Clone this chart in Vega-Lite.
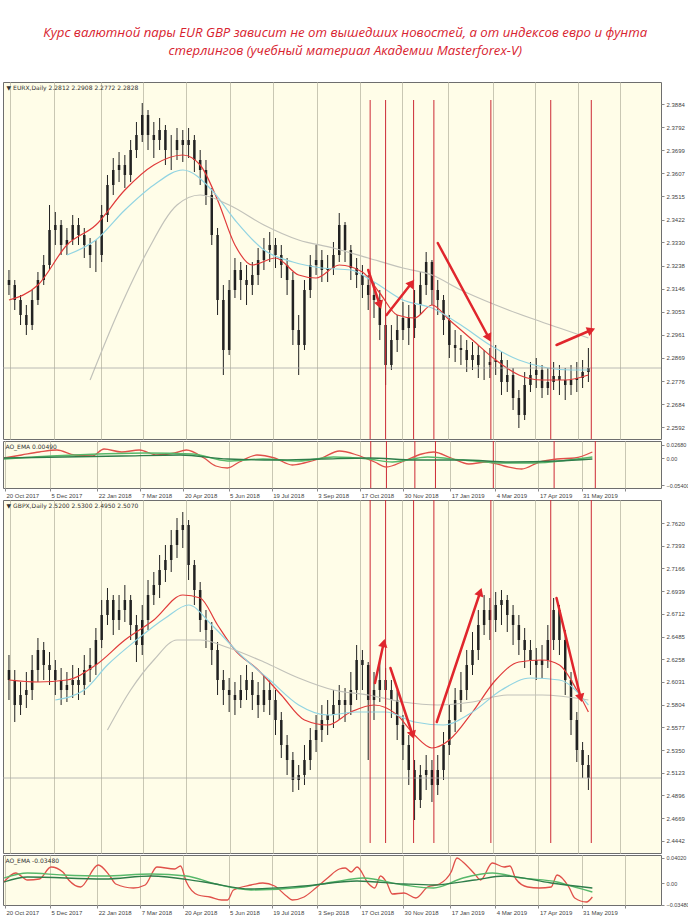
{
"$schema": "https://vega.github.io/schema/vega-lite/v6.json",
"padding": {"top": 26, "left": 0, "right": 0, "bottom": 0},
"background": "#ffffff",
"spacing": 0,
"title": {"text": ["Курс валютной пары EUR GBP зависит не от вышедших новостей, а от индексов евро и фунта", "стерлингов (учебный материал Академии Masterforex-V)"], "anchor": "middle", "font": "Open Sans", "fontStyle": "italic", "fontWeight": "normal", "fontSize": 13.2, "color": "#d8232f", "lineHeight": 18, "offset": 23},
"datasets": {
"top": [
{"d":"2017-10-19","o":2.318,"h":2.322,"l":2.312,"c":2.316},
{"d":"2017-10-25","o":2.316,"h":2.318,"l":2.306,"c":2.310},
{"d":"2017-10-31","o":2.310,"h":2.312,"l":2.300,"c":2.304},
{"d":"2017-11-06","o":2.304,"h":2.308,"l":2.296,"c":2.300},
{"d":"2017-11-12","o":2.300,"h":2.314,"l":2.298,"c":2.310},
{"d":"2017-11-18","o":2.310,"h":2.3212,"l":2.308,"c":2.318},
{"d":"2017-11-24","o":2.318,"h":2.328,"l":2.316,"c":2.324},
{"d":"2017-11-30","o":2.324,"h":2.348,"l":2.322,"c":2.338},
{"d":"2017-12-06","o":2.338,"h":2.3452,"l":2.332,"c":2.340},
{"d":"2017-12-12","o":2.340,"h":2.342,"l":2.328,"c":2.332},
{"d":"2017-12-18","o":2.332,"h":2.3388,"l":2.328,"c":2.334},
{"d":"2017-12-24","o":2.334,"h":2.344,"l":2.332,"c":2.340},
{"d":"2017-12-30","o":2.340,"h":2.3428,"l":2.332,"c":2.336},
{"d":"2018-01-05","o":2.336,"h":2.3388,"l":2.3268,"c":2.332},
{"d":"2018-01-11","o":2.332,"h":2.3348,"l":2.3228,"c":2.328},
{"d":"2018-01-17","o":2.328,"h":2.334,"l":2.3212,"c":2.328},
{"d":"2018-01-23","o":2.328,"h":2.348,"l":2.3252,"c":2.344},
{"d":"2018-01-29","o":2.344,"h":2.360,"l":2.3412,"c":2.356},
{"d":"2018-02-04","o":2.356,"h":2.3668,"l":2.352,"c":2.362},
{"d":"2018-02-10","o":2.362,"h":2.3692,"l":2.3572,"c":2.364},
{"d":"2018-02-16","o":2.364,"h":2.368,"l":2.3548,"c":2.360},
{"d":"2018-02-22","o":2.360,"h":2.374,"l":2.3572,"c":2.370},
{"d":"2018-02-28","o":2.370,"h":2.3812,"l":2.3668,"c":2.376},
{"d":"2018-03-06","o":2.376,"h":2.3888,"l":2.3732,"c":2.384},
{"d":"2018-03-12","o":2.384,"h":2.386,"l":2.370,"c":2.376},
{"d":"2018-03-18","o":2.376,"h":2.3812,"l":2.3668,"c":2.374},
{"d":"2018-03-24","o":2.374,"h":2.3828,"l":2.370,"c":2.378},
{"d":"2018-03-30","o":2.378,"h":2.380,"l":2.364,"c":2.370},
{"d":"2018-04-05","o":2.370,"h":2.376,"l":2.362,"c":2.370},
{"d":"2018-04-11","o":2.370,"h":2.3788,"l":2.366,"c":2.374},
{"d":"2018-04-17","o":2.374,"h":2.378,"l":2.3652,"c":2.372},
{"d":"2018-04-23","o":2.372,"h":2.3788,"l":2.3668,"c":2.374},
{"d":"2018-04-29","o":2.374,"h":2.376,"l":2.3612,"c":2.366},
{"d":"2018-05-05","o":2.366,"h":2.370,"l":2.356,"c":2.362},
{"d":"2018-05-11","o":2.362,"h":2.366,"l":2.348,"c":2.352},
{"d":"2018-05-17","o":2.352,"h":2.3548,"l":2.332,"c":2.336},
{"d":"2018-05-23","o":2.336,"h":2.3388,"l":2.304,"c":2.310},
{"d":"2018-05-29","o":2.310,"h":2.316,"l":2.280,"c":2.290},
{"d":"2018-06-04","o":2.290,"h":2.318,"l":2.288,"c":2.314},
{"d":"2018-06-10","o":2.314,"h":2.3268,"l":2.3108,"c":2.322},
{"d":"2018-06-16","o":2.322,"h":2.3252,"l":2.310,"c":2.318},
{"d":"2018-06-22","o":2.318,"h":2.324,"l":2.308,"c":2.316},
{"d":"2018-06-28","o":2.316,"h":2.3252,"l":2.312,"c":2.320},
{"d":"2018-07-04","o":2.320,"h":2.3308,"l":2.316,"c":2.326},
{"d":"2018-07-10","o":2.326,"h":2.3348,"l":2.322,"c":2.330},
{"d":"2018-07-16","o":2.330,"h":2.3372,"l":2.3252,"c":2.332},
{"d":"2018-07-22","o":2.332,"h":2.3348,"l":2.3228,"c":2.328},
{"d":"2018-07-28","o":2.328,"h":2.332,"l":2.3188,"c":2.324},
{"d":"2018-08-03","o":2.324,"h":2.3268,"l":2.312,"c":2.318},
{"d":"2018-08-09","o":2.318,"h":2.3212,"l":2.292,"c":2.298},
{"d":"2018-08-15","o":2.298,"h":2.304,"l":2.280,"c":2.292},
{"d":"2018-08-21","o":2.292,"h":2.318,"l":2.290,"c":2.314},
{"d":"2018-08-27","o":2.314,"h":2.328,"l":2.3108,"c":2.324},
{"d":"2018-09-02","o":2.324,"h":2.332,"l":2.320,"c":2.326},
{"d":"2018-09-08","o":2.326,"h":2.330,"l":2.3172,"c":2.322},
{"d":"2018-09-14","o":2.322,"h":2.328,"l":2.3172,"c":2.3228},
{"d":"2018-09-20","o":2.3228,"h":2.3332,"l":2.320,"c":2.328},
{"d":"2018-09-26","o":2.328,"h":2.3448,"l":2.3252,"c":2.340},
{"d":"2018-10-02","o":2.340,"h":2.3412,"l":2.3252,"c":2.330},
{"d":"2018-10-08","o":2.330,"h":2.332,"l":2.318,"c":2.3228},
{"d":"2018-10-14","o":2.3228,"h":2.3268,"l":2.3148,"c":2.320},
{"d":"2018-10-20","o":2.320,"h":2.324,"l":2.3108,"c":2.316},
{"d":"2018-10-26","o":2.316,"h":2.320,"l":2.306,"c":2.312},
{"d":"2018-11-01","o":2.312,"h":2.3172,"l":2.3028,"c":2.310},
{"d":"2018-11-07","o":2.310,"h":2.314,"l":2.294,"c":2.300},
{"d":"2018-11-13","o":2.300,"h":2.304,"l":2.276,"c":2.284},
{"d":"2018-11-19","o":2.284,"h":2.300,"l":2.282,"c":2.294},
{"d":"2018-11-25","o":2.294,"h":2.304,"l":2.2892,"c":2.298},
{"d":"2018-12-01","o":2.298,"h":2.3092,"l":2.294,"c":2.3028},
{"d":"2018-12-07","o":2.3028,"h":2.308,"l":2.292,"c":2.2988},
{"d":"2018-12-13","o":2.2988,"h":2.314,"l":2.2948,"c":2.308},
{"d":"2018-12-19","o":2.308,"h":2.3212,"l":2.304,"c":2.316},
{"d":"2018-12-25","o":2.316,"h":2.3292,"l":2.312,"c":2.3252},
{"d":"2018-12-31","o":2.3252,"h":2.326,"l":2.308,"c":2.314},
{"d":"2019-01-06","o":2.314,"h":2.318,"l":2.304,"c":2.310},
{"d":"2019-01-12","o":2.310,"h":2.312,"l":2.296,"c":2.302},
{"d":"2019-01-18","o":2.302,"h":2.304,"l":2.2868,"c":2.292},
{"d":"2019-01-24","o":2.292,"h":2.298,"l":2.2852,"c":2.2908},
{"d":"2019-01-30","o":2.2908,"h":2.296,"l":2.284,"c":2.290},
{"d":"2019-02-05","o":2.290,"h":2.294,"l":2.2812,"c":2.286},
{"d":"2019-02-11","o":2.286,"h":2.2932,"l":2.282,"c":2.288},
{"d":"2019-02-17","o":2.288,"h":2.292,"l":2.2788,"c":2.284},
{"d":"2019-02-23","o":2.284,"h":2.290,"l":2.278,"c":2.284},
{"d":"2019-03-01","o":2.284,"h":2.2908,"l":2.2788,"c":2.2852},
{"d":"2019-03-07","o":2.2852,"h":2.292,"l":2.280,"c":2.286},
{"d":"2019-03-13","o":2.286,"h":2.2892,"l":2.272,"c":2.2772},
{"d":"2019-03-19","o":2.2772,"h":2.286,"l":2.2732,"c":2.280},
{"d":"2019-03-25","o":2.280,"h":2.2828,"l":2.266,"c":2.2708},
{"d":"2019-03-31","o":2.2708,"h":2.274,"l":2.2588,"c":2.264},
{"d":"2019-04-06","o":2.264,"h":2.2812,"l":2.262,"c":2.276},
{"d":"2019-04-12","o":2.276,"h":2.2852,"l":2.2732,"c":2.280},
{"d":"2019-04-18","o":2.280,"h":2.2868,"l":2.2748,"c":2.282},
{"d":"2019-04-24","o":2.282,"h":2.284,"l":2.2708,"c":2.2748},
{"d":"2019-04-30","o":2.2748,"h":2.2828,"l":2.272,"c":2.2772},
{"d":"2019-05-06","o":2.2772,"h":2.2852,"l":2.274,"c":2.2796},
{"d":"2019-05-12","o":2.2796,"h":2.284,"l":2.272,"c":2.278},
{"d":"2019-05-18","o":2.278,"h":2.2828,"l":2.270,"c":2.276},
{"d":"2019-05-24","o":2.276,"h":2.284,"l":2.272,"c":2.278},
{"d":"2019-05-30","o":2.278,"h":2.2852,"l":2.2732,"c":2.2788},
{"d":"2019-06-05","o":2.2788,"h":2.286,"l":2.2748,"c":2.2812},
{"d":"2019-06-11","o":2.2812,"h":2.2908,"l":2.2772,"c":2.2828}
],
"bot": [
{"d":"2017-10-19","o":2.615,"h":2.630,"l":2.585,"c":2.605},
{"d":"2017-10-25","o":2.605,"h":2.615,"l":2.563,"c":2.580},
{"d":"2017-10-31","o":2.580,"h":2.603,"l":2.570,"c":2.590},
{"d":"2017-11-06","o":2.590,"h":2.613,"l":2.577,"c":2.595},
{"d":"2017-11-12","o":2.595,"h":2.630,"l":2.585,"c":2.615},
{"d":"2017-11-18","o":2.615,"h":2.647,"l":2.603,"c":2.635},
{"d":"2017-11-24","o":2.635,"h":2.643,"l":2.605,"c":2.620},
{"d":"2017-11-30","o":2.620,"h":2.633,"l":2.600,"c":2.615},
{"d":"2017-12-06","o":2.615,"h":2.625,"l":2.590,"c":2.605},
{"d":"2017-12-12","o":2.605,"h":2.617,"l":2.580,"c":2.595},
{"d":"2017-12-18","o":2.595,"h":2.613,"l":2.583,"c":2.600},
{"d":"2017-12-24","o":2.600,"h":2.620,"l":2.587,"c":2.605},
{"d":"2017-12-30","o":2.605,"h":2.617,"l":2.585,"c":2.600},
{"d":"2018-01-05","o":2.600,"h":2.630,"l":2.590,"c":2.615},
{"d":"2018-01-11","o":2.615,"h":2.637,"l":2.603,"c":2.620},
{"d":"2018-01-17","o":2.620,"h":2.657,"l":2.610,"c":2.645},
{"d":"2018-01-23","o":2.645,"h":2.685,"l":2.637,"c":2.670},
{"d":"2018-01-29","o":2.670,"h":2.697,"l":2.660,"c":2.685},
{"d":"2018-02-04","o":2.685,"h":2.690,"l":2.650,"c":2.665},
{"d":"2018-02-10","o":2.665,"h":2.690,"l":2.655,"c":2.675},
{"d":"2018-02-16","o":2.675,"h":2.700,"l":2.663,"c":2.685},
{"d":"2018-02-22","o":2.685,"h":2.690,"l":2.645,"c":2.660},
{"d":"2018-02-28","o":2.660,"h":2.670,"l":2.623,"c":2.640},
{"d":"2018-03-06","o":2.640,"h":2.680,"l":2.630,"c":2.665},
{"d":"2018-03-12","o":2.665,"h":2.705,"l":2.655,"c":2.690},
{"d":"2018-03-18","o":2.690,"h":2.713,"l":2.680,"c":2.700},
{"d":"2018-03-24","o":2.700,"h":2.730,"l":2.687,"c":2.715},
{"d":"2018-03-30","o":2.715,"h":2.740,"l":2.703,"c":2.725},
{"d":"2018-04-05","o":2.725,"h":2.755,"l":2.713,"c":2.740},
{"d":"2018-04-11","o":2.740,"h":2.767,"l":2.727,"c":2.755},
{"d":"2018-04-17","o":2.755,"h":2.773,"l":2.737,"c":2.760},
{"d":"2018-04-23","o":2.760,"h":2.765,"l":2.705,"c":2.720},
{"d":"2018-04-29","o":2.720,"h":2.725,"l":2.680,"c":2.695},
{"d":"2018-05-05","o":2.695,"h":2.703,"l":2.653,"c":2.665},
{"d":"2018-05-11","o":2.665,"h":2.675,"l":2.637,"c":2.655},
{"d":"2018-05-17","o":2.655,"h":2.663,"l":2.620,"c":2.635},
{"d":"2018-05-23","o":2.635,"h":2.643,"l":2.590,"c":2.605},
{"d":"2018-05-29","o":2.605,"h":2.615,"l":2.580,"c":2.595},
{"d":"2018-06-04","o":2.595,"h":2.607,"l":2.573,"c":2.590},
{"d":"2018-06-10","o":2.590,"h":2.603,"l":2.570,"c":2.585},
{"d":"2018-06-16","o":2.585,"h":2.610,"l":2.577,"c":2.595},
{"d":"2018-06-22","o":2.595,"h":2.620,"l":2.585,"c":2.605},
{"d":"2018-06-28","o":2.605,"h":2.613,"l":2.575,"c":2.590},
{"d":"2018-07-04","o":2.590,"h":2.603,"l":2.567,"c":2.580},
{"d":"2018-07-10","o":2.580,"h":2.610,"l":2.573,"c":2.595},
{"d":"2018-07-16","o":2.595,"h":2.605,"l":2.570,"c":2.585},
{"d":"2018-07-22","o":2.585,"h":2.595,"l":2.550,"c":2.565},
{"d":"2018-07-28","o":2.565,"h":2.573,"l":2.527,"c":2.540},
{"d":"2018-08-03","o":2.540,"h":2.550,"l":2.510,"c":2.525},
{"d":"2018-08-09","o":2.525,"h":2.533,"l":2.493,"c":2.505},
{"d":"2018-08-15","o":2.505,"h":2.520,"l":2.495,"c":2.510},
{"d":"2018-08-21","o":2.510,"h":2.540,"l":2.500,"c":2.525},
{"d":"2018-08-27","o":2.525,"h":2.557,"l":2.515,"c":2.545},
{"d":"2018-09-02","o":2.545,"h":2.570,"l":2.533,"c":2.555},
{"d":"2018-09-08","o":2.555,"h":2.580,"l":2.543,"c":2.565},
{"d":"2018-09-14","o":2.565,"h":2.585,"l":2.550,"c":2.570},
{"d":"2018-09-20","o":2.570,"h":2.595,"l":2.557,"c":2.580},
{"d":"2018-09-26","o":2.580,"h":2.600,"l":2.565,"c":2.585},
{"d":"2018-10-02","o":2.585,"h":2.597,"l":2.563,"c":2.580},
{"d":"2018-10-08","o":2.580,"h":2.613,"l":2.570,"c":2.595},
{"d":"2018-10-14","o":2.595,"h":2.640,"l":2.585,"c":2.625},
{"d":"2018-10-20","o":2.625,"h":2.635,"l":2.595,"c":2.620},
{"d":"2018-10-26","o":2.620,"h":2.623,"l":2.525,"c":2.585},
{"d":"2018-11-01","o":2.585,"h":2.613,"l":2.565,"c":2.595},
{"d":"2018-11-07","o":2.595,"h":2.625,"l":2.583,"c":2.605},
{"d":"2018-11-13","o":2.605,"h":2.617,"l":2.580,"c":2.595},
{"d":"2018-11-19","o":2.595,"h":2.605,"l":2.567,"c":2.585},
{"d":"2018-11-25","o":2.585,"h":2.595,"l":2.545,"c":2.560},
{"d":"2018-12-01","o":2.560,"h":2.570,"l":2.525,"c":2.540},
{"d":"2018-12-07","o":2.540,"h":2.550,"l":2.500,"c":2.515},
{"d":"2018-12-13","o":2.515,"h":2.525,"l":2.465,"c":2.485},
{"d":"2018-12-19","o":2.485,"h":2.520,"l":2.477,"c":2.510},
{"d":"2018-12-25","o":2.510,"h":2.530,"l":2.495,"c":2.515},
{"d":"2018-12-31","o":2.515,"h":2.525,"l":2.483,"c":2.500},
{"d":"2019-01-06","o":2.500,"h":2.530,"l":2.490,"c":2.515},
{"d":"2019-01-12","o":2.515,"h":2.553,"l":2.505,"c":2.540},
{"d":"2019-01-18","o":2.540,"h":2.580,"l":2.530,"c":2.565},
{"d":"2019-01-24","o":2.565,"h":2.597,"l":2.553,"c":2.585},
{"d":"2019-01-30","o":2.585,"h":2.613,"l":2.573,"c":2.595},
{"d":"2019-02-05","o":2.595,"h":2.635,"l":2.585,"c":2.620},
{"d":"2019-02-11","o":2.620,"h":2.653,"l":2.610,"c":2.635},
{"d":"2019-02-17","o":2.635,"h":2.675,"l":2.625,"c":2.660},
{"d":"2019-02-23","o":2.660,"h":2.690,"l":2.650,"c":2.675},
{"d":"2019-03-01","o":2.675,"h":2.687,"l":2.645,"c":2.665},
{"d":"2019-03-07","o":2.665,"h":2.693,"l":2.653,"c":2.680},
{"d":"2019-03-13","o":2.680,"h":2.695,"l":2.660,"c":2.685},
{"d":"2019-03-19","o":2.685,"h":2.690,"l":2.653,"c":2.670},
{"d":"2019-03-25","o":2.670,"h":2.680,"l":2.640,"c":2.660},
{"d":"2019-03-31","o":2.660,"h":2.670,"l":2.630,"c":2.645},
{"d":"2019-04-06","o":2.645,"h":2.657,"l":2.617,"c":2.635},
{"d":"2019-04-12","o":2.635,"h":2.645,"l":2.610,"c":2.625},
{"d":"2019-04-18","o":2.625,"h":2.637,"l":2.605,"c":2.620},
{"d":"2019-04-24","o":2.620,"h":2.640,"l":2.607,"c":2.625},
{"d":"2019-04-30","o":2.625,"h":2.660,"l":2.617,"c":2.645},
{"d":"2019-05-06","o":2.645,"h":2.687,"l":2.635,"c":2.675},
{"d":"2019-05-12","o":2.675,"h":2.680,"l":2.630,"c":2.645},
{"d":"2019-05-18","o":2.645,"h":2.655,"l":2.590,"c":2.605},
{"d":"2019-05-24","o":2.605,"h":2.613,"l":2.550,"c":2.565},
{"d":"2019-05-30","o":2.565,"h":2.573,"l":2.523,"c":2.535},
{"d":"2019-06-05","o":2.535,"h":2.543,"l":2.507,"c":2.520},
{"d":"2019-06-11","o":2.520,"h":2.530,"l":2.495,"c":2.507}
],
"topma": [
{"d":"2017-10-19","v":2.310,"s":"red"},{"d":"2017-11-18","v":2.316,"s":"red"},{"d":"2017-12-18","v":2.332,"s":"red"},{"d":"2018-01-17","v":2.340,"s":"red"},{"d":"2018-02-16","v":2.354,"s":"red"},{"d":"2018-03-18","v":2.364,"s":"red"},{"d":"2018-04-17","v":2.368,"s":"red"},{"d":"2018-05-05","v":2.364,"s":"red"},{"d":"2018-05-23","v":2.350,"s":"red"},{"d":"2018-06-10","v":2.332,"s":"red"},{"d":"2018-06-28","v":2.324,"s":"red"},{"d":"2018-07-22","v":2.3268,"s":"red"},{"d":"2018-08-15","v":2.320,"s":"red"},{"d":"2018-09-02","v":2.3188,"s":"red"},{"d":"2018-09-26","v":2.324,"s":"red"},{"d":"2018-10-20","v":2.3212,"s":"red"},{"d":"2018-11-07","v":2.3128,"s":"red"},{"d":"2018-11-25","v":2.304,"s":"red"},{"d":"2018-12-13","v":2.3028,"s":"red"},{"d":"2018-12-31","v":2.308,"s":"red"},{"d":"2019-01-18","v":2.302,"s":"red"},{"d":"2019-02-11","v":2.294,"s":"red"},{"d":"2019-03-07","v":2.286,"s":"red"},{"d":"2019-03-31","v":2.280,"s":"red"},{"d":"2019-04-24","v":2.278,"s":"red"},{"d":"2019-05-18","v":2.278,"s":"red"},{"d":"2019-06-11","v":2.280,"s":"red"},
{"d":"2017-12-18","v":2.328,"s":"cyan"},{"d":"2018-01-17","v":2.334,"s":"cyan"},{"d":"2018-02-16","v":2.346,"s":"cyan"},{"d":"2018-03-18","v":2.356,"s":"cyan"},{"d":"2018-04-17","v":2.362,"s":"cyan"},{"d":"2018-05-17","v":2.354,"s":"cyan"},{"d":"2018-06-10","v":2.342,"s":"cyan"},{"d":"2018-07-10","v":2.330,"s":"cyan"},{"d":"2018-08-09","v":2.3252,"s":"cyan"},{"d":"2018-09-08","v":2.3228,"s":"cyan"},{"d":"2018-10-08","v":2.322,"s":"cyan"},{"d":"2018-11-01","v":2.3172,"s":"cyan"},{"d":"2018-12-01","v":2.310,"s":"cyan"},{"d":"2018-12-31","v":2.3068,"s":"cyan"},{"d":"2019-01-30","v":2.300,"s":"cyan"},{"d":"2019-03-01","v":2.292,"s":"cyan"},{"d":"2019-03-31","v":2.286,"s":"cyan"},{"d":"2019-04-30","v":2.2828,"s":"cyan"},{"d":"2019-05-24","v":2.282,"s":"cyan"},{"d":"2019-06-11","v":2.282,"s":"cyan"},
{"d":"2018-01-11","v":2.278,"s":"gray"},{"d":"2018-02-10","v":2.306,"s":"gray"},{"d":"2018-03-12","v":2.330,"s":"gray"},{"d":"2018-04-11","v":2.348,"s":"gray"},{"d":"2018-05-05","v":2.352,"s":"gray"},{"d":"2018-06-04","v":2.348,"s":"gray"},{"d":"2018-07-10","v":2.340,"s":"gray"},{"d":"2018-08-15","v":2.334,"s":"gray"},{"d":"2018-09-20","v":2.3308,"s":"gray"},{"d":"2018-10-26","v":2.3268,"s":"gray"},{"d":"2018-12-01","v":2.3228,"s":"gray"},{"d":"2018-12-31","v":2.320,"s":"gray"},{"d":"2019-01-30","v":2.314,"s":"gray"},{"d":"2019-03-07","v":2.308,"s":"gray"},{"d":"2019-04-12","v":2.3028,"s":"gray"},{"d":"2019-05-12","v":2.2988,"s":"gray"},{"d":"2019-06-11","v":2.2948,"s":"gray"}
],
"botma": [
{"d":"2017-10-19","v":2.605,"s":"red"},{"d":"2017-11-18","v":2.603,"s":"red"},{"d":"2017-12-18","v":2.605,"s":"red"},{"d":"2018-01-17","v":2.620,"s":"red"},{"d":"2018-02-16","v":2.645,"s":"red"},{"d":"2018-03-18","v":2.665,"s":"red"},{"d":"2018-04-17","v":2.690,"s":"red"},{"d":"2018-05-05","v":2.687,"s":"red"},{"d":"2018-05-23","v":2.660,"s":"red"},{"d":"2018-06-10","v":2.635,"s":"red"},{"d":"2018-07-04","v":2.615,"s":"red"},{"d":"2018-07-28","v":2.590,"s":"red"},{"d":"2018-08-21","v":2.565,"s":"red"},{"d":"2018-09-14","v":2.560,"s":"red"},{"d":"2018-10-08","v":2.573,"s":"red"},{"d":"2018-11-01","v":2.580,"s":"red"},{"d":"2018-11-25","v":2.570,"s":"red"},{"d":"2018-12-13","v":2.550,"s":"red"},{"d":"2018-12-31","v":2.537,"s":"red"},{"d":"2019-01-18","v":2.545,"s":"red"},{"d":"2019-02-11","v":2.573,"s":"red"},{"d":"2019-03-07","v":2.605,"s":"red"},{"d":"2019-03-31","v":2.623,"s":"red"},{"d":"2019-04-24","v":2.625,"s":"red"},{"d":"2019-05-12","v":2.620,"s":"red"},{"d":"2019-05-30","v":2.595,"s":"red"},{"d":"2019-06-11","v":2.573,"s":"red"},
{"d":"2017-12-06","v":2.585,"s":"cyan"},{"d":"2018-01-05","v":2.595,"s":"cyan"},{"d":"2018-01-29","v":2.620,"s":"cyan"},{"d":"2018-02-28","v":2.645,"s":"cyan"},{"d":"2018-03-30","v":2.667,"s":"cyan"},{"d":"2018-04-23","v":2.680,"s":"cyan"},{"d":"2018-05-17","v":2.660,"s":"cyan"},{"d":"2018-06-16","v":2.630,"s":"cyan"},{"d":"2018-07-16","v":2.605,"s":"cyan"},{"d":"2018-08-15","v":2.580,"s":"cyan"},{"d":"2018-09-14","v":2.570,"s":"cyan"},{"d":"2018-10-14","v":2.573,"s":"cyan"},{"d":"2018-11-13","v":2.573,"s":"cyan"},{"d":"2018-12-13","v":2.563,"s":"cyan"},{"d":"2019-01-12","v":2.560,"s":"cyan"},{"d":"2019-02-11","v":2.573,"s":"cyan"},{"d":"2019-03-13","v":2.595,"s":"cyan"},{"d":"2019-04-12","v":2.607,"s":"cyan"},{"d":"2019-05-12","v":2.605,"s":"cyan"},{"d":"2019-06-11","v":2.580,"s":"cyan"},
{"d":"2018-01-29","v":2.555,"s":"gray"},{"d":"2018-02-22","v":2.595,"s":"gray"},{"d":"2018-03-18","v":2.625,"s":"gray"},{"d":"2018-04-11","v":2.645,"s":"gray"},{"d":"2018-05-05","v":2.645,"s":"gray"},{"d":"2018-06-04","v":2.637,"s":"gray"},{"d":"2018-07-10","v":2.623,"s":"gray"},{"d":"2018-08-15","v":2.607,"s":"gray"},{"d":"2018-09-20","v":2.595,"s":"gray"},{"d":"2018-10-26","v":2.590,"s":"gray"},{"d":"2018-12-01","v":2.583,"s":"gray"},{"d":"2019-01-06","v":2.580,"s":"gray"},{"d":"2019-02-11","v":2.583,"s":"gray"},{"d":"2019-03-19","v":2.590,"s":"gray"},{"d":"2019-04-24","v":2.590,"s":"gray"},{"d":"2019-06-11","v":2.585,"s":"gray"}
],
"topao": [
{"d":"2017-10-19","v":0,"s":"ao"},{"d":"2017-11-06","v":0.006,"s":"ao"},{"d":"2017-11-24","v":0.012,"s":"ao"},{"d":"2017-12-12","v":0.016,"s":"ao"},{"d":"2017-12-30","v":0.006,"s":"ao"},{"d":"2018-01-17","v":0.004,"s":"ao"},{"d":"2018-01-29","v":0.018,"s":"ao"},{"d":"2018-02-16","v":0.012,"s":"ao"},{"d":"2018-03-06","v":0.016,"s":"ao"},{"d":"2018-03-24","v":0.006,"s":"ao"},{"d":"2018-04-11","v":0.010,"s":"ao"},{"d":"2018-04-23","v":0.016,"s":"ao"},{"d":"2018-05-11","v":0,"s":"ao"},{"d":"2018-05-23","v":-0.016,"s":"ao"},{"d":"2018-06-04","v":-0.020,"s":"ao"},{"d":"2018-06-16","v":-0.008,"s":"ao"},{"d":"2018-07-04","v":0.006,"s":"ao"},{"d":"2018-07-22","v":0,"s":"ao"},{"d":"2018-08-09","v":-0.014,"s":"ao"},{"d":"2018-08-21","v":-0.010,"s":"ao"},{"d":"2018-09-08","v":0,"s":"ao"},{"d":"2018-09-26","v":0.014,"s":"ao"},{"d":"2018-10-14","v":0.006,"s":"ao"},{"d":"2018-11-01","v":-0.008,"s":"ao"},{"d":"2018-11-13","v":-0.018,"s":"ao"},{"d":"2018-12-01","v":-0.006,"s":"ao"},{"d":"2018-12-19","v":0.008,"s":"ao"},{"d":"2018-12-31","v":0.012,"s":"ao"},{"d":"2019-01-18","v":0,"s":"ao"},{"d":"2019-02-05","v":-0.012,"s":"ao"},{"d":"2019-02-23","v":-0.008,"s":"ao"},{"d":"2019-03-13","v":-0.016,"s":"ao"},{"d":"2019-03-31","v":-0.022,"s":"ao"},{"d":"2019-04-18","v":-0.008,"s":"ao"},{"d":"2019-05-06","v":-0.002,"s":"ao"},{"d":"2019-05-24","v":0,"s":"ao"},{"d":"2019-06-11","v":0.012,"s":"ao"},
{"d":"2017-10-19","v":-0.002,"s":"g1"},{"d":"2017-12-06","v":0.004,"s":"g1"},{"d":"2018-01-23","v":0.008,"s":"g1"},{"d":"2018-03-12","v":0.010,"s":"g1"},{"d":"2018-04-29","v":0.008,"s":"g1"},{"d":"2018-06-04","v":-0.006,"s":"g1"},{"d":"2018-07-10","v":-0.002,"s":"g1"},{"d":"2018-08-15","v":-0.006,"s":"g1"},{"d":"2018-09-20","v":0.002,"s":"g1"},{"d":"2018-10-26","v":-0.002,"s":"g1"},{"d":"2018-11-19","v":-0.008,"s":"g1"},{"d":"2018-12-25","v":0.002,"s":"g1"},{"d":"2019-01-30","v":-0.004,"s":"g1"},{"d":"2019-03-07","v":-0.010,"s":"g1"},{"d":"2019-04-12","v":-0.010,"s":"g1"},{"d":"2019-05-18","v":-0.004,"s":"g1"},{"d":"2019-06-11","v":0.002,"s":"g1"},
{"d":"2017-10-19","v":0,"s":"g2"},{"d":"2017-12-18","v":0.002,"s":"g2"},{"d":"2018-02-16","v":0.004,"s":"g2"},{"d":"2018-04-17","v":0.006,"s":"g2"},{"d":"2018-06-04","v":-0.002,"s":"g2"},{"d":"2018-07-22","v":-0.004,"s":"g2"},{"d":"2018-09-08","v":-0.002,"s":"g2"},{"d":"2018-10-26","v":0,"s":"g2"},{"d":"2018-12-13","v":-0.004,"s":"g2"},{"d":"2019-01-30","v":-0.004,"s":"g2"},{"d":"2019-03-19","v":-0.008,"s":"g2"},{"d":"2019-05-06","v":-0.006,"s":"g2"},{"d":"2019-06-11","v":-0.002,"s":"g2"}
],
"botao": [
{"d":"2017-10-19","v":0.0016,"s":"ao"},{"d":"2017-10-31","v":0.016,"s":"ao"},{"d":"2017-11-12","v":0.0048,"s":"ao"},{"d":"2017-11-24","v":0.0064,"s":"ao"},{"d":"2017-12-06","v":0.0256,"s":"ao"},{"d":"2017-12-18","v":0.0176,"s":"ao"},{"d":"2017-12-24","v":0.0048,"s":"ao"},{"d":"2018-01-05","v":-0.0064,"s":"ao"},{"d":"2018-01-23","v":0.0288,"s":"ao"},{"d":"2018-02-04","v":0.0112,"s":"ao"},{"d":"2018-02-10","v":-0.0016,"s":"ao"},{"d":"2018-02-28","v":-0.008,"s":"ao"},{"d":"2018-03-12","v":-0.0032,"s":"ao"},{"d":"2018-03-24","v":0.0256,"s":"ao"},{"d":"2018-04-11","v":0.0224,"s":"ao"},{"d":"2018-04-17","v":0.0272,"s":"ao"},{"d":"2018-04-23","v":0.0016,"s":"ao"},{"d":"2018-05-05","v":-0.0192,"s":"ao"},{"d":"2018-05-17","v":-0.0224,"s":"ao"},{"d":"2018-05-29","v":-0.0272,"s":"ao"},{"d":"2018-06-04","v":-0.0272,"s":"ao"},{"d":"2018-06-10","v":-0.0112,"s":"ao"},{"d":"2018-06-28","v":-0.0032,"s":"ao"},{"d":"2018-07-10","v":0,"s":"ao"},{"d":"2018-07-22","v":-0.0048,"s":"ao"},{"d":"2018-08-03","v":-0.0208,"s":"ao"},{"d":"2018-08-09","v":-0.0272,"s":"ao"},{"d":"2018-08-21","v":-0.0224,"s":"ao"},{"d":"2018-09-02","v":-0.008,"s":"ao"},{"d":"2018-09-14","v":0.008,"s":"ao"},{"d":"2018-09-26","v":0.0224,"s":"ao"},{"d":"2018-10-02","v":0.024,"s":"ao"},{"d":"2018-10-08","v":0.0176,"s":"ao"},{"d":"2018-10-14","v":0.0256,"s":"ao"},{"d":"2018-10-26","v":-0.0016,"s":"ao"},{"d":"2018-11-01","v":-0.008,"s":"ao"},{"d":"2018-11-07","v":0.0112,"s":"ao"},{"d":"2018-11-13","v":0.0016,"s":"ao"},{"d":"2018-11-19","v":-0.0176,"s":"ao"},{"d":"2018-12-01","v":-0.016,"s":"ao"},{"d":"2018-12-13","v":-0.024,"s":"ao"},{"d":"2018-12-25","v":-0.0064,"s":"ao"},{"d":"2019-01-06","v":-0.0016,"s":"ao"},{"d":"2019-01-18","v":0.0176,"s":"ao"},{"d":"2019-01-24","v":0.040,"s":"ao"},{"d":"2019-01-30","v":0.0336,"s":"ao"},{"d":"2019-02-11","v":0.0144,"s":"ao"},{"d":"2019-02-17","v":0.0048,"s":"ao"},{"d":"2019-03-01","v":0.032,"s":"ao"},{"d":"2019-03-13","v":0.0256,"s":"ao"},{"d":"2019-03-19","v":0.0272,"s":"ao"},{"d":"2019-03-25","v":0.0064,"s":"ao"},{"d":"2019-04-06","v":-0.0064,"s":"ao"},{"d":"2019-04-18","v":-0.008,"s":"ao"},{"d":"2019-04-30","v":-0.0064,"s":"ao"},{"d":"2019-05-06","v":0.0128,"s":"ao"},{"d":"2019-05-18","v":-0.0064,"s":"ao"},{"d":"2019-05-24","v":-0.024,"s":"ao"},{"d":"2019-06-05","v":-0.0304,"s":"ao"},{"d":"2019-06-11","v":-0.0224,"s":"ao"},
{"d":"2017-10-19","v":0.008,"s":"g1"},{"d":"2017-11-12","v":0.016,"s":"g1"},{"d":"2017-12-18","v":0.0128,"s":"g1"},{"d":"2018-01-29","v":0.0112,"s":"g1"},{"d":"2018-03-18","v":0.0144,"s":"g1"},{"d":"2018-04-23","v":0.0112,"s":"g1"},{"d":"2018-05-23","v":-0.0016,"s":"g1"},{"d":"2018-06-28","v":-0.0112,"s":"g1"},{"d":"2018-08-21","v":-0.0064,"s":"g1"},{"d":"2018-09-20","v":0.0016,"s":"g1"},{"d":"2018-10-20","v":0.008,"s":"g1"},{"d":"2018-12-01","v":-0.0032,"s":"g1"},{"d":"2018-12-31","v":-0.008,"s":"g1"},{"d":"2019-01-30","v":0.008,"s":"g1"},{"d":"2019-03-01","v":0.016,"s":"g1"},{"d":"2019-03-31","v":0.008,"s":"g1"},{"d":"2019-05-06","v":0.0016,"s":"g1"},{"d":"2019-05-24","v":-0.0064,"s":"g1"},{"d":"2019-06-11","v":-0.0144,"s":"g1"},
{"d":"2017-10-19","v":0.0016,"s":"g2"},{"d":"2017-11-12","v":0.0096,"s":"g2"},{"d":"2018-01-29","v":0.0064,"s":"g2"},{"d":"2018-03-18","v":0.0112,"s":"g2"},{"d":"2018-05-11","v":0.0016,"s":"g2"},{"d":"2018-06-28","v":-0.0096,"s":"g2"},{"d":"2018-08-21","v":-0.0048,"s":"g2"},{"d":"2018-10-14","v":0.0032,"s":"g2"},{"d":"2018-12-01","v":-0.0016,"s":"g2"},{"d":"2018-12-31","v":-0.0032,"s":"g2"},{"d":"2019-02-11","v":0.0048,"s":"g2"},{"d":"2019-03-13","v":0.0112,"s":"g2"},{"d":"2019-04-30","v":0,"s":"g2"},{"d":"2019-06-11","v":-0.008,"s":"g2"}
],
"vl": [{"d":"2018-10-28"},{"d":"2018-11-13"},{"d":"2018-12-12"},{"d":"2019-01-02"},{"d":"2019-03-02"},{"d":"2019-05-03"},{"d":"2019-06-14"}],
"arrTop": [
{"d1":"2018-10-26","v1":2.322,"d2":"2018-11-07","v2":2.308,"a":161},
{"d1":"2018-11-14","v1":2.304,"d2":"2018-12-10","v2":2.3168,"a":38},
{"d1":"2019-01-06","v1":2.3328,"d2":"2019-02-28","v2":2.2948,"a":152},
{"d1":"2019-05-09","v1":2.292,"d2":"2019-06-14","v2":2.298,"a":67}
],
"arrBot": [
{"d1":"2018-11-02","v1":2.602,"d2":"2018-11-11","v2":2.642,"a":13},
{"d1":"2018-11-18","v1":2.617,"d2":"2018-12-11","v2":2.550,"a":162},
{"d1":"2019-01-05","v1":2.563,"d2":"2019-02-19","v2":2.693,"a":19},
{"d1":"2019-05-09","v1":2.687,"d2":"2019-06-03","v2":2.587,"a":166}
],
"bidTop": [{"p":2.2828}],
"bidBot": [{"p":2.507}]
},
"resolve": {"scale": {"x": "independent", "y": "independent", "color": "independent"}},
"vconcat": [
{
"width": 658, "height": 357,
"title": {"text": "▼ EURX,Daily  2.2812 2.2908 2.2772 2.2828", "anchor": "start", "orient": "top", "offset": -9, "dx": 4, "fontSize": 6, "fontWeight": "normal", "font": "DejaVu Sans", "color": "#333333"},
"layer": [
{"data": {"name": "top"}, "mark": {"type": "rule", "color": "#222222", "strokeWidth": 1},
 "encoding": {
  "x": {"field": "d", "type": "temporal", "scale": {"type": "utc", "domain": [{"year":2017,"month":10,"date":18,"utc":true},{"year":2019,"month":8,"date":20,"utc":true}]},
        "axis": {"values": [{"year":2017,"month":10,"date":20,"utc":true},{"year":2017,"month":12,"date":5,"utc":true},{"year":2018,"month":1,"date":22,"utc":true},{"year":2018,"month":3,"date":7,"utc":true},{"year":2018,"month":4,"date":20,"utc":true},{"year":2018,"month":6,"date":5,"utc":true},{"year":2018,"month":7,"date":19,"utc":true},{"year":2018,"month":9,"date":3,"utc":true},{"year":2018,"month":10,"date":17,"utc":true},{"year":2018,"month":11,"date":30,"utc":true},{"year":2019,"month":1,"date":17,"utc":true},{"year":2019,"month":3,"date":4,"utc":true},{"year":2019,"month":4,"date":17,"utc":true},{"year":2019,"month":5,"date":31,"utc":true},{"year":2019,"month":7,"date":14,"utc":true}], "tickCount": 40, "labels": false, "ticks": false, "domain": false, "grid": true, "title": null}},
  "y": {"field": "l", "type": "quantitative", "scale": {"domain": [2.2544, 2.3972], "nice": false, "zero": false},
        "axis": {"orient": "right", "values": [2.3884,2.3792,2.3699,2.3607,2.3515,2.3422,2.3330,2.3238,2.3146,2.3053,2.2961,2.2869,2.2776,2.2684,2.2592], "tickCount": 40, "format": ".4f", "labelOverlap": false, "grid": false, "title": null}},
  "y2": {"field": "h"}}},
{"data": {"name": "top"}, "mark": {"type": "bar", "size": 2.5, "color": "#222222"},
 "encoding": {"x": {"field": "d", "type": "temporal"}, "y": {"field": "o", "type": "quantitative"}, "y2": {"field": "c"}}},
{"data": {"name": "topma"}, "mark": {"type": "line", "strokeWidth": 1.2, "interpolate": "monotone"},
 "encoding": {"x": {"field": "d", "type": "temporal"}, "y": {"field": "v", "type": "quantitative"},
  "color": {"field": "s", "type": "nominal", "scale": {"domain": ["gray","cyan","red"], "range": ["#c2c2ba","#92d4e2","#e03a3a"]}, "legend": null}}},
{"data": {"name": "bidTop"}, "mark": {"type": "rule", "color": "#a8a8a8", "strokeWidth": 0.8},
 "encoding": {"y": {"field": "p", "type": "quantitative"}}},
{"data": {"name": "vl"}, "mark": {"type": "rule", "color": "#cc2a36", "strokeWidth": 1},
 "encoding": {"x": {"field": "d", "type": "temporal"}, "y": {"datum": 2.390}, "y2": {"datum": 2.2544}}},
{"data": {"name": "arrTop"}, "mark": {"type": "rule", "color": "#e0262d", "strokeWidth": 2.5, "strokeCap": "round"},
 "encoding": {"x": {"field": "d1", "type": "temporal"}, "x2": {"field": "d2"}, "y": {"field": "v1", "type": "quantitative"}, "y2": {"field": "v2"}}},
{"data": {"name": "arrTop"}, "mark": {"type": "point", "shape": "triangle-up", "filled": true, "size": 90, "color": "#e0262d", "opacity": 1},
 "encoding": {"x": {"field": "d2", "type": "temporal"}, "y": {"field": "v2", "type": "quantitative"}, "angle": {"field": "a", "type": "quantitative", "scale": null}}}
]
},
{
"width": 658, "height": 47,
"title": {"text": "AO_EMA 0.00490", "anchor": "start", "orient": "top", "offset": -9, "dx": 4, "fontSize": 6, "fontWeight": "normal", "font": "DejaVu Sans", "color": "#333333"},
"layer": [
{"data": {"name": "vl"}, "mark": {"type": "rule", "color": "#cc2a36", "strokeWidth": 1},
 "encoding": {"x": {"field": "d", "type": "temporal", "scale": {"type": "utc", "domain": [{"year":2017,"month":10,"date":18,"utc":true},{"year":2019,"month":8,"date":20,"utc":true}]},
   "axis": {"values": [{"year":2017,"month":10,"date":20,"utc":true},{"year":2017,"month":12,"date":5,"utc":true},{"year":2018,"month":1,"date":22,"utc":true},{"year":2018,"month":3,"date":7,"utc":true},{"year":2018,"month":4,"date":20,"utc":true},{"year":2018,"month":6,"date":5,"utc":true},{"year":2018,"month":7,"date":19,"utc":true},{"year":2018,"month":9,"date":3,"utc":true},{"year":2018,"month":10,"date":17,"utc":true},{"year":2018,"month":11,"date":30,"utc":true},{"year":2019,"month":1,"date":17,"utc":true},{"year":2019,"month":3,"date":4,"utc":true},{"year":2019,"month":4,"date":17,"utc":true},{"year":2019,"month":5,"date":31,"utc":true},{"year":2019,"month":7,"date":14,"utc":true}], "tickCount": 40,
     "format": "%-d %b %Y", "labelExpr": "datum.value > 1560000000000 ? '' : datum.label", "labelAlign": "left", "labelOffset": 1, "labelPadding": 1, "tickSize": 3, "grid": true, "domain": false, "labelOverlap": false, "title": null}}}},
{"data": {"name": "topao"}, "mark": {"type": "line", "strokeWidth": 1.3, "interpolate": "monotone"},
 "encoding": {"x": {"field": "d", "type": "temporal"},
  "y": {"field": "v", "type": "quantitative", "scale": {"domain": [-0.060, 0.034], "nice": false, "zero": false},
        "axis": {"orient": "right", "values": [0.0268, 0, -0.054], "tickCount": 10, "labelExpr": "datum.value == 0 ? '0.00' : format(datum.value, '.5f')", "labelFontSize": 5.5, "labelOverlap": false, "grid": false, "title": null}},
  "color": {"field": "s", "type": "nominal", "scale": {"domain": ["g2","g1","ao"], "range": ["#2e7d4a","#57b86a","#e0504a"]}, "legend": null}}}
]
},
{
"width": 658, "height": 353,
"title": {"text": "▼ GBPX,Daily  2.5200 2.5300 2.4950 2.5070", "anchor": "start", "orient": "top", "offset": -9, "dx": 4, "fontSize": 6, "fontWeight": "normal", "font": "DejaVu Sans", "color": "#333333"},
"layer": [
{"data": {"name": "bot"}, "mark": {"type": "rule", "color": "#222222", "strokeWidth": 1},
 "encoding": {
  "x": {"field": "d", "type": "temporal", "scale": {"type": "utc", "domain": [{"year":2017,"month":10,"date":18,"utc":true},{"year":2019,"month":8,"date":20,"utc":true}]},
        "axis": {"values": [{"year":2017,"month":10,"date":20,"utc":true},{"year":2017,"month":12,"date":5,"utc":true},{"year":2018,"month":1,"date":22,"utc":true},{"year":2018,"month":3,"date":7,"utc":true},{"year":2018,"month":4,"date":20,"utc":true},{"year":2018,"month":6,"date":5,"utc":true},{"year":2018,"month":7,"date":19,"utc":true},{"year":2018,"month":9,"date":3,"utc":true},{"year":2018,"month":10,"date":17,"utc":true},{"year":2018,"month":11,"date":30,"utc":true},{"year":2019,"month":1,"date":17,"utc":true},{"year":2019,"month":3,"date":4,"utc":true},{"year":2019,"month":4,"date":17,"utc":true},{"year":2019,"month":5,"date":31,"utc":true},{"year":2019,"month":7,"date":14,"utc":true}], "tickCount": 40, "labels": false, "ticks": false, "domain": false, "grid": true, "title": null}},
  "y": {"field": "l", "type": "quantitative", "scale": {"domain": [2.432, 2.785], "nice": false, "zero": false},
        "axis": {"orient": "right", "values": [2.7620,2.7393,2.7166,2.6939,2.6712,2.6485,2.6258,2.6031,2.5804,2.5577,2.5350,2.5123,2.4896,2.4669,2.4442], "tickCount": 40, "format": ".4f", "labelOverlap": false, "grid": false, "title": null}},
  "y2": {"field": "h"}}},
{"data": {"name": "bot"}, "mark": {"type": "bar", "size": 2.5, "color": "#222222"},
 "encoding": {"x": {"field": "d", "type": "temporal"}, "y": {"field": "o", "type": "quantitative"}, "y2": {"field": "c"}}},
{"data": {"name": "botma"}, "mark": {"type": "line", "strokeWidth": 1.2, "interpolate": "monotone"},
 "encoding": {"x": {"field": "d", "type": "temporal"}, "y": {"field": "v", "type": "quantitative"},
  "color": {"field": "s", "type": "nominal", "scale": {"domain": ["gray","cyan","red"], "range": ["#c2c2ba","#92d4e2","#e03a3a"]}, "legend": null}}},
{"data": {"name": "bidBot"}, "mark": {"type": "rule", "color": "#a8a8a8", "strokeWidth": 0.8},
 "encoding": {"y": {"field": "p", "type": "quantitative"}}},
{"data": {"name": "vl"}, "mark": {"type": "rule", "color": "#cc2a36", "strokeWidth": 1},
 "encoding": {"x": {"field": "d", "type": "temporal"}, "y": {"datum": 2.785}, "y2": {"datum": 2.442}}},
{"data": {"name": "arrBot"}, "mark": {"type": "rule", "color": "#e0262d", "strokeWidth": 2.5, "strokeCap": "round"},
 "encoding": {"x": {"field": "d1", "type": "temporal"}, "x2": {"field": "d2"}, "y": {"field": "v1", "type": "quantitative"}, "y2": {"field": "v2"}}},
{"data": {"name": "arrBot"}, "mark": {"type": "point", "shape": "triangle-up", "filled": true, "size": 90, "color": "#e0262d", "opacity": 1},
 "encoding": {"x": {"field": "d2", "type": "temporal"}, "y": {"field": "v2", "type": "quantitative"}, "angle": {"field": "a", "type": "quantitative", "scale": null}}}
]
},
{
"width": 658, "height": 50,
"title": {"text": "AO_EMA -0.03480", "anchor": "start", "orient": "top", "offset": -9, "dx": 4, "fontSize": 6, "fontWeight": "normal", "font": "DejaVu Sans", "color": "#333333"},
"layer": [
{"data": {"name": "botao"}, "mark": {"type": "line", "strokeWidth": 1.3, "interpolate": "monotone"},
 "encoding": {"x": {"field": "d", "type": "temporal", "scale": {"type": "utc", "domain": [{"year":2017,"month":10,"date":18,"utc":true},{"year":2019,"month":8,"date":20,"utc":true}]},
   "axis": {"values": [{"year":2017,"month":10,"date":20,"utc":true},{"year":2017,"month":12,"date":5,"utc":true},{"year":2018,"month":1,"date":22,"utc":true},{"year":2018,"month":3,"date":7,"utc":true},{"year":2018,"month":4,"date":20,"utc":true},{"year":2018,"month":6,"date":5,"utc":true},{"year":2018,"month":7,"date":19,"utc":true},{"year":2018,"month":9,"date":3,"utc":true},{"year":2018,"month":10,"date":17,"utc":true},{"year":2018,"month":11,"date":30,"utc":true},{"year":2019,"month":1,"date":17,"utc":true},{"year":2019,"month":3,"date":4,"utc":true},{"year":2019,"month":4,"date":17,"utc":true},{"year":2019,"month":5,"date":31,"utc":true},{"year":2019,"month":7,"date":14,"utc":true}], "tickCount": 40,
     "format": "%-d %b %Y", "labelExpr": "datum.value > 1560000000000 ? '' : datum.label", "labelAlign": "left", "labelOffset": 1, "labelPadding": 1, "tickSize": 3, "grid": true, "domain": false, "labelOverlap": false, "title": null}},
  "y": {"field": "v", "type": "quantitative", "scale": {"domain": [-0.0352, 0.0448], "nice": false, "zero": false},
        "axis": {"orient": "right", "values": [0.0402, 0, -0.0348], "tickCount": 10, "labelExpr": "datum.value == 0 ? '0.00' : format(datum.value, '.5f')", "labelFontSize": 5.5, "labelOverlap": false, "grid": false, "title": null}},
  "color": {"field": "s", "type": "nominal", "scale": {"domain": ["g2","g1","ao"], "range": ["#2e7d4a","#57b86a","#e0504a"]}, "legend": null}}}
]
}
],
"config": {
 "view": {"fill": "#FFFDE8", "stroke": "#6e6e6e", "strokeWidth": 1},
 "concat": {"spacing": 0},
 "axis": {"labelFont": "Liberation Sans", "labelFontSize": 6, "labelColor": "#444444", "tickColor": "#8a8a8a", "tickSize": 3, "domain": false, "gridColor": "#c9c7b3", "gridWidth": 1, "labelPadding": 2, "labelOverlap": false}
}
}
